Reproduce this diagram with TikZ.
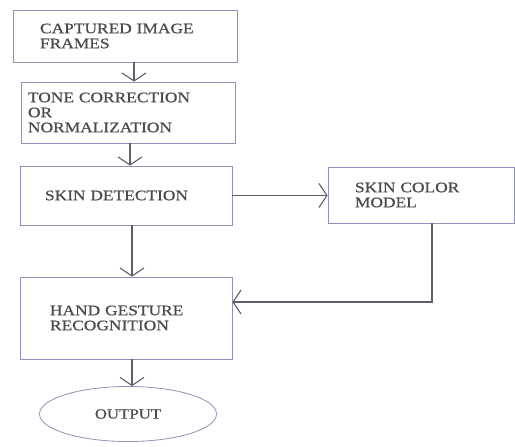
\documentclass[tikz,border=0pt]{standalone}
\usepackage{fontspec}
\newfontfamily\boxfont[FakeStretch=1.2,FakeBold=0.6]{Liberation Serif}
\usepackage{tikz}
\usetikzlibrary{shapes,arrows.meta,positioning,calc}
\definecolor{boxline}{RGB}{145,145,185}
\definecolor{arrline}{RGB}{95,95,105}
\definecolor{txtgray}{RGB}{75,75,75}

\begin{document}
\begin{tikzpicture}[x=1pt,y=-1pt,
	block/.style={rectangle,draw=boxline,line width=0.8pt,inner ysep=0pt,align=left,
		font=\boxfont\fontsize{14.5}{15}\selectfont,text=txtgray},
	arr/.style={draw=arrline,line width=1.1pt,-{Straight Barb[length=8pt,width=24pt]}}]
\useasboundingbox (0,0) rectangle (515,447);

\node [block,minimum width=224,minimum height=52,inner xsep=27,text width=170] (n1) at (125,36) {CAPTURED IMAGE\\FRAMES};
\node [block,minimum width=214,minimum height=61,inner xsep=7,text width=200] (n2) at (128,112.5) {TONE CORRECTION\\OR\\NORMALIZATION};
\node [block,minimum width=212,minimum height=59,inner xsep=25,text width=162] (n3) at (126,195.5) {SKIN DETECTION\\[4pt]};
\node [block,minimum width=212,minimum height=82,inner xsep=30,text width=152] (n4) at (126,318) {HAND GESTURE\\RECOGNITION};
\node [block,minimum width=186,minimum height=56,inner xsep=27,text width=132] (n5) at (421,195) {SKIN COLOR\\MODEL};
\node [ellipse,draw=boxline,line width=0.8pt,inner sep=0pt,minimum width=177,minimum height=55,
	font=\boxfont\fontsize{14}{14}\selectfont,text=txtgray] (n6) at (128,414) {OUTPUT};

\draw[arr] ($(n1.south)+(9,0)$) coordinate (a1) -- (a1 |- n2.north);
\draw[arr] ($(n2.south)+(2,0)$) coordinate (a2) -- (a2 |- n3.north);
\draw[arr] ($(n3.south)+(6,0)$) coordinate (a3) -- (a3 |- n4.north);
\draw[arr] (n3.east) -- (n3.east -| n5.west);
\draw[arr] ($(n5.south)+(11,0)$) |- ($(n4.east)+(0,-16)$);
\draw[arr] ($(n4.south)+(6,0)$) coordinate (a4) -- (a4 |- n6.north);
\end{tikzpicture}
\end{document}
